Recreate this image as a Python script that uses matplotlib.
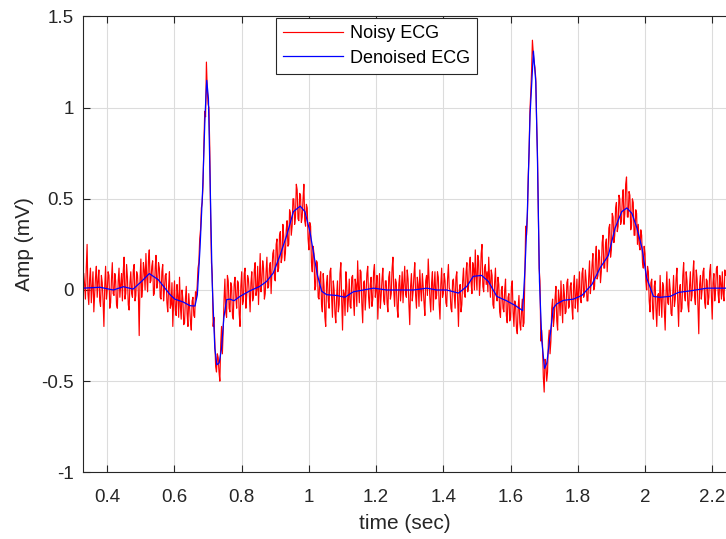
import matplotlib
matplotlib.use('Agg')
import numpy as np
import matplotlib.pyplot as plt
from matplotlib.ticker import FormatStrFormatter

# noisy ECG, one sample every 2.5 ms starting at 0.33 s (one row = 50 ms)
t0 = 0.33
dt = 0.0025
noisy_ecg = [
    0.09, 0.03, -0.05, 0.12, 0.25, -0.02, -0.08, 0.06, 0.12, -0.07, 0.02, 0.1, -0.12, -0.03, 0.07, 0.13, -0.04, 0.05, 0.11, -0.06,
    -0.09, 0.08, 0.04, -0.06, -0.2, 0.02, 0.13, -0.05, 0.0, 0.1, 0.08, -0.1, -0.07, 0.06, 0.15, -0.02, -0.03, 0.09, 0.05, -0.08,
    -0.1, 0.05, 0.12, -0.04, 0.03, 0.09, -0.06, 0.1, 0.18, -0.05, -0.02, 0.14, 0.07, -0.08, -0.11, 0.04, 0.1, -0.02, -0.04, 0.11,
    0.14, -0.06, -0.03, 0.1, 0.08, -0.02, -0.25, 0.06, 0.17, -0.04, 0.02, 0.15, 0.11, 0.0, 0.2, 0.07, -0.01, 0.16, 0.22, 0.04,
    0.05, 0.13, 0.16, -0.03, -0.02, 0.12, 0.19, 0.01, 0.04, 0.15, 0.12, -0.04, -0.05, 0.1, 0.14, -0.06, 0.0, 0.08, 0.09, -0.07,
    -0.12, 0.02, 0.1, -0.1, -0.08, 0.04, -0.2, -0.06, 0.05, -0.11, -0.14, 0.03, -0.03, -0.15, 0.07, -0.09, -0.16, 0.0, -0.05, -0.19,
    -0.18, -0.05, 0.02, -0.13, -0.2, -0.02, -0.1, -0.17, -0.22, -0.06, -0.04, -0.14, -0.15, -0.01, -0.05, 0.02, 0.12, 0.15, 0.28, 0.33,
    0.45, 0.48, 0.58, 0.8, 0.98, 0.95, 1.25, 1.1, 1.02, 1.0, 0.78, 0.4, 0.15, 0.08, -0.2, -0.15, -0.28, -0.42, -0.45, -0.35,
    -0.37, -0.45, -0.5, -0.3, -0.2, -0.35, -0.22, -0.05, 0.06, -0.12, -0.15, 0.08, 0.05, -0.1, -0.12, 0.04, 0.02, -0.14, -0.16, 0.03,
    0.07, -0.04, -0.1, 0.05, 0.04, -0.13, -0.2, 0.02, 0.1, -0.08, -0.06, 0.09, 0.12, -0.1, -0.03, 0.08, 0.06, -0.02, -0.12, 0.04,
    0.1, -0.06, -0.04, 0.11, 0.15, -0.03, 0.0, 0.13, -0.08, 0.06, 0.2, -0.01, 0.05, 0.16, 0.12, -0.05, -0.02, 0.1, 0.18, 0.01,
    0.02, 0.12, 0.15, -0.02, 0.1, 0.2, 0.22, 0.06, 0.05, 0.25, 0.28, 0.1, 0.12, 0.3, 0.32, 0.15, 0.18, 0.36, 0.3, 0.16,
    0.2, 0.33, 0.38, 0.24, 0.25, 0.44, 0.42, 0.3, 0.35, 0.5, 0.5, 0.36, 0.4, 0.58, 0.55, 0.39, 0.38, 0.53, 0.52, 0.37,
    0.4, 0.5, 0.58, 0.38, 0.35, 0.47, 0.45, 0.28, 0.22, 0.37, 0.35, 0.15, 0.1, 0.24, 0.2, 0.0, 0.02, 0.16, 0.15, -0.04,
    -0.05, 0.06, 0.1, -0.08, -0.12, 0.09, 0.02, -0.15, -0.2, 0.04, 0.08, -0.06, -0.1, 0.1, 0.12, -0.04, -0.15, 0.05, 0.0, -0.13,
    -0.18, -0.03, 0.05, -0.12, -0.08, 0.09, 0.15, -0.06, -0.22, 0.0, -0.02, -0.14, 0.1, 0.03, -0.12, -0.05, 0.06, -0.09, -0.1, 0.07,
    0.08, -0.05, -0.14, 0.06, 0.03, -0.09, 0.16, 0.02, -0.07, 0.11, 0.1, -0.08, -0.18, 0.04, 0.05, -0.11, -0.02, 0.09, 0.13, -0.04,
    -0.1, 0.03, 0.07, -0.09, -0.05, 0.1, 0.14, -0.04, 0.0, 0.08, -0.16, -0.02, 0.09, -0.1, -0.03, 0.06, 0.12, -0.06, -0.08, 0.05,
    0.05, -0.07, -0.12, 0.07, 0.1, -0.05, -0.02, 0.12, 0.18, -0.01, -0.09, 0.06, 0.04, -0.1, -0.15, 0.03, 0.08, -0.06, 0.0, 0.1,
    -0.07, 0.04, 0.13, -0.02, -0.04, 0.11, 0.06, -0.08, -0.19, 0.02, 0.09, -0.06, -0.01, 0.08, 0.15, -0.03, -0.1, 0.07, 0.03, -0.09,
    0.11, 0.0, -0.06, 0.09, 0.02, -0.07, -0.14, 0.05, 0.08, -0.03, 0.17, 0.06, -0.05, -0.12, 0.04, 0.1, -0.11, 0.02, 0.1, -0.05,
    -0.03, 0.1, 0.07, -0.08, -0.16, 0.03, 0.12, -0.04, -0.02, 0.09, 0.05, -0.07, -0.09, 0.06, 0.14, 0.01, 0.0, -0.1, -0.12, 0.05,
    0.06, -0.03, -0.1, 0.07, 0.1, -0.06, -0.2, 0.0, 0.03, -0.12, -0.08, 0.05, 0.12, -0.02, -0.04, 0.1, 0.15, -0.01, 0.02, 0.14,
    0.18, 0.04, -0.02, 0.15, 0.12, 0.0, 0.22, 0.08, 0.0, 0.19, 0.16, -0.03, 0.05, 0.2, 0.25, 0.02, -0.01, 0.12, 0.14, 0.03,
    0.1, -0.01, 0.18, 0.06, -0.04, 0.11, 0.08, -0.08, -0.1, 0.04, 0.12, -0.03, -0.06, 0.07, 0.03, -0.12, -0.15, 0.0, 0.02, -0.1,
    -0.12, 0.0, 0.06, -0.14, -0.18, -0.04, -0.02, -0.17, -0.15, 0.02, 0.05, -0.12, -0.2, -0.06, -0.08, -0.21, -0.24, -0.1, -0.03, -0.18,
    -0.22, -0.12, -0.05, -0.2, -0.18, 0.08, 0.35, 0.3, 0.4, 0.62, 0.75, 0.98, 1.08, 1.2, 1.37, 1.3, 1.25, 1.22, 1.16, 0.92,
    0.75, 0.42, 0.12, 0.05, -0.28, -0.22, -0.3, -0.48, -0.56, -0.38, -0.4, -0.5, -0.45, -0.28, -0.22, -0.35, -0.28, -0.1, -0.05, -0.2,
    -0.15, -0.04, 0.02, -0.17, -0.22, 0.0, -0.05, -0.14, 0.05, -0.08, -0.18, 0.03, -0.02, -0.13, -0.12, 0.04, 0.06, -0.1, -0.09, 0.02,
    0.04, -0.09, -0.16, 0.03, 0.08, -0.1, -0.03, 0.06, -0.12, 0.0, 0.1, -0.05, -0.07, 0.09, 0.12, -0.04, -0.02, 0.11, 0.05, -0.06,
    -0.06, 0.07, 0.16, -0.02, 0.05, 0.14, 0.2, 0.0, 0.02, 0.17, 0.24, 0.06, 0.08, 0.22, 0.18, 0.04, 0.1, 0.26, 0.3, 0.12,
    0.12, 0.25, 0.28, 0.1, 0.2, 0.34, 0.36, 0.18, 0.22, 0.42, 0.4, 0.26, 0.3, 0.45, 0.48, 0.32, 0.35, 0.52, 0.5, 0.36,
    0.38, 0.5, 0.55, 0.36, 0.42, 0.58, 0.62, 0.4, 0.4, 0.54, 0.52, 0.33, 0.35, 0.5, 0.48, 0.3, 0.3, 0.44, 0.42, 0.25,
    0.36, 0.25, 0.22, 0.33, 0.3, 0.15, 0.12, 0.24, 0.2, 0.05, 0.0, 0.13, 0.1, -0.06, -0.12, 0.04, 0.06, -0.1, -0.16, 0.02,
    0.05, -0.1, -0.2, -0.03, -0.02, -0.14, 0.08, -0.05, -0.15, 0.04, 0.02, -0.11, -0.22, -0.02, 0.1, -0.07, -0.08, 0.06, 0.0, -0.13,
    -0.14, -0.02, 0.08, -0.09, -0.05, 0.06, 0.12, -0.07, -0.2, 0.0, 0.03, -0.12, -0.1, 0.08, 0.15, -0.03, -0.06, 0.1, 0.05, -0.08,
    -0.12, 0.02, 0.1, -0.06, -0.03, 0.09, 0.16, -0.04, -0.08, 0.11, 0.06, -0.09, -0.24, 0.03, 0.08, -0.05, 0.0, 0.1, 0.12, -0.07,
    -0.1, 0.06, 0.05, -0.08, -0.04, 0.1, 0.14, -0.03, -0.16, 0.04, 0.09, -0.06, 0.0, 0.12, 0.13, -0.02, -0.07, 0.08, 0.04, -0.05,
    0.1, -0.02, -0.06, 0.11, 0.08,
]

# wavelet-denoised ECG
denoised_t = [
    0.329, 0.378, 0.418, 0.448, 0.477, 0.502, 0.525, 0.552, 0.587, 0.601,
    0.626, 0.646, 0.661, 0.668, 0.676, 0.684, 0.691, 0.696, 0.701, 0.706,
    0.712, 0.720, 0.726, 0.733, 0.740, 0.747, 0.755, 0.765, 0.777, 0.795,
    0.825, 0.854, 0.874, 0.894, 0.914, 0.934, 0.954, 0.974, 0.988, 1.003,
    1.013, 1.025, 1.038, 1.053, 1.083, 1.107, 1.132, 1.162, 1.192, 1.232,
    1.271, 1.311, 1.351, 1.380, 1.410, 1.445, 1.470, 1.489, 1.514, 1.534,
    1.559, 1.589, 1.613, 1.636, 1.643, 1.650, 1.658, 1.668, 1.675, 1.680,
    1.686, 1.693, 1.701, 1.708, 1.718, 1.727, 1.737, 1.757, 1.787, 1.812,
    1.842, 1.866, 1.891, 1.911, 1.931, 1.946, 1.961, 1.976, 1.991, 2.005,
    2.025, 2.045, 2.075, 2.100, 2.134, 2.184, 2.241,
]
denoised_v = [
    0.01, 0.015, 0.0, 0.018, 0.005, 0.047, 0.09, 0.056, -0.026, -0.05,
    -0.066, -0.086, -0.088, -0.026, 0.23, 0.56, 0.96, 1.15, 1.05, 0.60,
    0.05, -0.32, -0.41, -0.40, -0.32, -0.15, -0.053, -0.05, -0.059, -0.035,
    -0.004, 0.02, 0.047, 0.093, 0.19, 0.30, 0.43, 0.46, 0.43, 0.32,
    0.21, 0.084, -0.007, -0.026, -0.03, -0.04, -0.01, 0.0, 0.01, 0.0,
    0.0, 0.0, 0.01, 0.0, 0.0, -0.017, 0.02, 0.075, 0.08, 0.047,
    -0.035, -0.06, -0.084, -0.113, 0.12, 0.43, 0.96, 1.31, 1.14, 0.72,
    0.047, -0.28, -0.43, -0.40, -0.245, -0.10, -0.077, -0.057, -0.05, -0.03,
    0.03, 0.12, 0.19, 0.34, 0.43, 0.45, 0.42, 0.34, 0.23, 0.066,
    -0.035, -0.04, -0.035, -0.013, -0.005, 0.01, 0.01,
]

x_ticks = [0.4, 0.6, 0.8, 1.0, 1.2, 1.4, 1.6, 1.8, 2.0, 2.2]
y_ticks = [-1, -0.5, 0, 0.5, 1, 1.5]

plt.rcParams['font.family'] = ['Liberation Sans', 'DejaVu Sans']
axis_col = '#262626'

noisy_t = t0 + dt * np.arange(len(noisy_ecg))

fig = plt.figure(figsize=(7.26, 5.39), dpi=100)
ax = fig.add_axes([0.1147, 0.1237, 0.8853, 0.8457])

ax.plot(noisy_t, noisy_ecg, color='red', linewidth=0.85, label='Noisy ECG')
ax.plot(denoised_t, denoised_v, color='blue', linewidth=0.9, label='Denoised ECG')

ax.set_xlim(0.3286, 2.241)
ax.set_ylim(-1, 1.5)
ax.set_xticks(x_ticks)
ax.set_yticks(y_ticks)
ax.xaxis.set_major_formatter(FormatStrFormatter('%g'))
ax.yaxis.set_major_formatter(FormatStrFormatter('%g'))

ax.grid(True, color='#dcdcdc', linewidth=0.8)
ax.set_axisbelow(True)
ax.spines['right'].set_visible(False)
for s in ['left', 'top', 'bottom']:
    ax.spines[s].set_color(axis_col)
    ax.spines[s].set_linewidth(0.8)
ax.tick_params(direction='in', length=5, width=0.8, colors=axis_col,
               labelsize=13.5, top=True)
ax.tick_params(axis='y', pad=7)
ax.tick_params(axis='x', pad=12)

ax.set_xlabel('time (sec)', fontsize=15, color=axis_col, labelpad=6)
ax.set_ylabel('Amp (mV)', fontsize=15, color=axis_col, labelpad=5)

leg = ax.legend(loc='upper left', bbox_to_anchor=(0.380, 0.967),
                bbox_transform=fig.transFigure, borderaxespad=0,
                fancybox=False, fontsize=13, handlelength=3.3,
                handletextpad=0.4, borderpad=0.4, labelspacing=0.42)
leg.get_frame().set_edgecolor(axis_col)
leg.get_frame().set_linewidth(0.8)
leg.get_frame().set_alpha(1)

plt.savefig('out.png', dpi=100)
